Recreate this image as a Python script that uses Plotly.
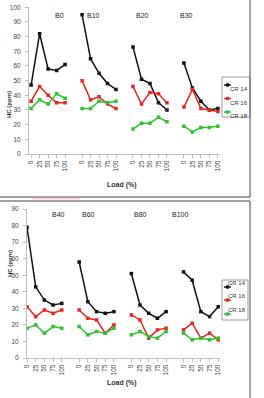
import plotly.graph_objects as go

loads = ["0", "25", "50", "75", "100"]
series_names = ["CR 14", "CR 16", "CR 18"]
colors = ["#111111", "#e8261e", "#2fc12f"]

top_groups = ["B0", "B10", "B20", "B30"]
top_cr14 = [[47, 82, 58, 57, 61], [95, 65, 55, 48, 44], [73, 51, 48, 35, 30], [62, 45, 36, 30, 31]]
top_cr16 = [[36, 46, 40, 35, 35], [50, 37, 39, 34, 31], [46, 34, 42, 41, 35], [32, 44, 31, 30, 29]]
top_cr18 = [[31, 37, 34, 41, 38], [31, 31, 36, 35, 36], [17, 21, 21, 25, 22], [19, 15, 18, 18, 19]]

bot_groups = ["B40", "B60", "B80", "B100"]
bot_cr14 = [[79, 43, 35, 32, 33], [58, 34, 28, 27, 28], [51, 32, 27, 24, 28], [52, 47, 28, 25, 31]]
bot_cr16 = [[31, 25, 29, 27, 29], [29, 24, 23, 15, 20], [26, 23, 12, 17, 18], [17, 21, 12, 15, 11]]
bot_cr18 = [[18, 20, 15, 19, 18], [19, 14, 16, 15, 18], [14, 16, 13, 12, 16], [15, 11, 12, 11, 12]]

W, H = 264, 398
FONT = "Liberation Sans Narrow, Liberation Sans, Arial"
n_per = len(loads)
step = n_per + 1


def positions(g):
    return [g * step + i for i in range(n_per)]


def px_x(p):
    return p / W


def px_y(p):
    return 1 - p / H


fig = go.Figure()


def add_chart(data_sets, xa, ya):
    for name, col, data in zip(series_names, colors, data_sets):
        xs, ys = [], []
        for g, vals in enumerate(data):
            xs += positions(g) + [None]
            ys += list(vals) + [None]
        fig.add_trace(go.Scatter(
            x=xs, y=ys, name=name, mode="lines+markers",
            line=dict(color=col, width=1.5),
            marker=dict(color=col, size=3.5, symbol="square"),
            connectgaps=False, xaxis=xa, yaxis=ya, showlegend=False,
        ))


add_chart([top_cr14, top_cr16, top_cr18], "x", "y")
add_chart([bot_cr14, bot_cr16, bot_cr18], "x2", "y2")

tickvals = [p for g in range(4) for p in positions(g)]
ticktext = loads * 4

axis_common = dict(
    showgrid=False, zeroline=False, showline=True, linecolor="#bdbdbd", linewidth=1,
    ticks="outside", tickcolor="#bdbdbd", ticklen=3,
    tickfont=dict(family=FONT, size=6.5, color="#444444"),
)

fig.update_layout(
    width=W, height=H, margin=dict(l=0, r=0, t=0, b=0, autoexpand=False),
    paper_bgcolor="white", plot_bgcolor="white", showlegend=False,
    xaxis=dict(domain=[px_x(29), px_x(220)], range=[-0.25, 22.25], tickvals=tickvals,
               ticktext=ticktext, tickangle=-90, anchor="y", **axis_common),
    yaxis=dict(domain=[px_y(154), px_y(7.3)], range=[0, 100], dtick=10, anchor="x",
               ticklabelstandoff=3, **axis_common),
    xaxis2=dict(domain=[px_x(27), px_x(220)], range=[0, 22.2], tickvals=tickvals,
                ticktext=ticktext, tickangle=-90, anchor="y2", **axis_common),
    yaxis2=dict(domain=[px_y(358), px_y(209)], range=[0, 90], dtick=10, anchor="x2",
                ticklabelstandoff=3, **axis_common),
)

annotations = []
shapes = []
top_label_x = [53, 93, 142, 195]
bot_label_x = [50, 88, 140, 190]
for name, x in zip(top_groups, top_label_x):
    annotations.append(dict(text=name, x=px_x(x), y=px_y(10), xref="paper", yref="paper",
                            showarrow=False, font=dict(family=FONT, size=7, color="#222222")))
for name, x in zip(bot_groups, bot_label_x):
    annotations.append(dict(text=name, x=px_x(x), y=px_y(215), xref="paper", yref="paper",
                            showarrow=False, font=dict(family=FONT, size=7, color="#222222")))
for yc in (90, 278):
    annotations.append(dict(text="<b>HC (ppm)</b>", x=px_x(5.5), y=px_y(yc), xref="paper", yref="paper",
                            showarrow=False, textangle=-90, borderpad=0,
                            font=dict(family=FONT, size=6, color="#333333")))
for yc in (185, 389):
    annotations.append(dict(text="<b>Load (%)</b>", x=px_x(122), y=px_y(yc), xref="paper", yref="paper",
                            showarrow=False, font=dict(family=FONT, size=7, color="#333333")))

# manual legends (one per chart)
for (bx0, bx1, by0, by1, rows) in [(222, 250, 77, 117, [85, 98.5, 112]),
                                    (222, 248, 280, 320, [287, 300, 314])]:
    shapes.append(dict(type="rect", xref="paper", yref="paper",
                       x0=px_x(bx0), x1=px_x(bx1), y0=px_y(by1), y1=px_y(by0),
                       line=dict(color="#9a9a9a", width=1), fillcolor="white"))
    for name, col, ry in zip(series_names, colors, rows):
        shapes.append(dict(type="line", xref="paper", yref="paper",
                           x0=px_x(bx0 + 2), x1=px_x(bx0 + 9), y0=px_y(ry), y1=px_y(ry),
                           line=dict(color=col, width=1.4)))
        shapes.append(dict(type="rect", xref="paper", yref="paper",
                           x0=px_x(bx0 + 4.3), x1=px_x(bx0 + 6.7), y0=px_y(ry + 1.2), y1=px_y(ry - 1.2),
                           line=dict(color=col, width=1), fillcolor=col))
        annotations.append(dict(text=name, x=px_x(bx1 - 1), y=px_y(ry), xref="paper", yref="paper",
                                xanchor="right", showarrow=False, borderpad=0,
                                font=dict(family=FONT, size=6, color="#333333")))

shapes += [
    dict(type="rect", xref="paper", yref="paper", x0=-0.01, x1=px_x(250), y0=px_y(197), y1=1.01,
         line=dict(color="#444444", width=1)),
    dict(type="rect", xref="paper", yref="paper", x0=-0.01, x1=px_x(250), y0=-0.01, y1=px_y(201),
         line=dict(color="#444444", width=1)),
    dict(type="line", xref="paper", yref="paper", x0=px_x(32), x1=px_x(80), y0=px_y(198.5), y1=px_y(198.5),
         line=dict(color="rgba(240,120,120,0.35)", width=2)),
]
fig.update_layout(annotations=annotations, shapes=shapes)

fig.write_html("out.html")
